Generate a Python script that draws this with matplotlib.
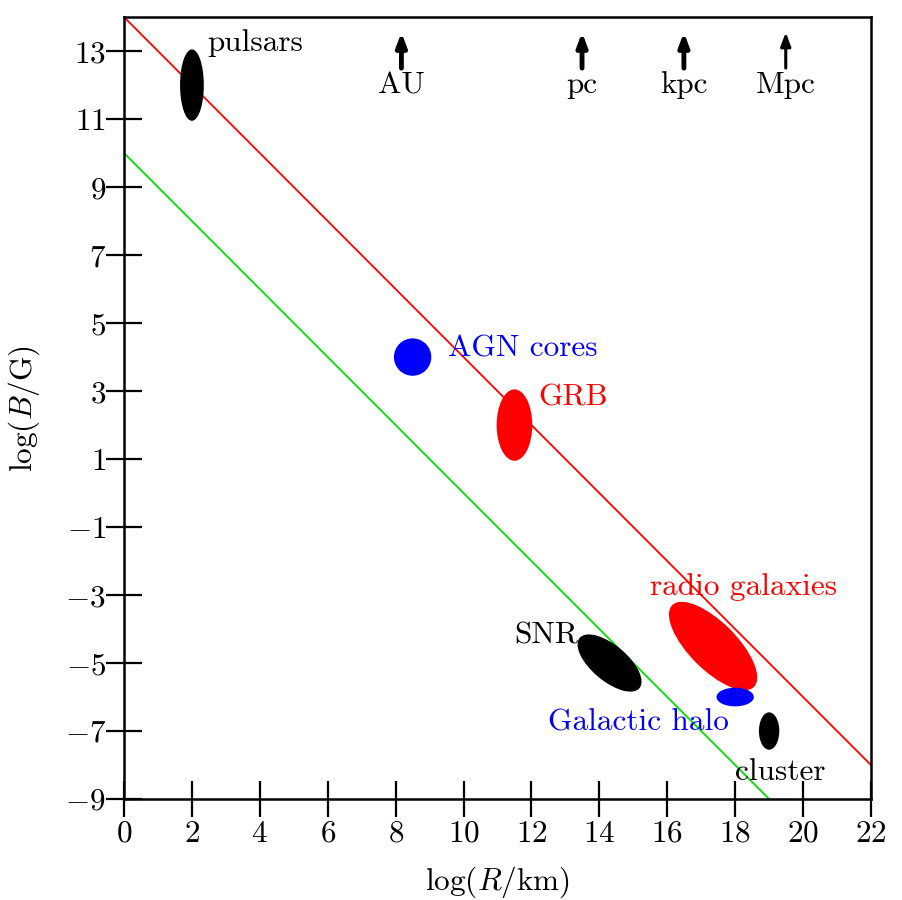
import matplotlib
matplotlib.use("Agg")
import matplotlib.pyplot as plt
from matplotlib.patches import Ellipse

plt.rcParams['font.family'] = 'serif'
plt.rcParams['font.serif'] = ['cmr10', 'DejaVu Serif']
plt.rcParams['mathtext.fontset'] = 'cm'
plt.rcParams['axes.formatter.use_mathtext'] = True

# Hillas lines: log B = intercept - log R
line_x = [[0, 22], [0, 19]]
line_y = [[14, -8], [10, -9]]
line_colors = ['#ff0000', '#00e000']

# sources: centre, width, height, angle (data units)
src_names = ['pulsars', 'AGN cores', 'GRB', 'radio galaxies', 'SNR', 'Galactic halo', 'cluster']
src_x = [2.0, 8.5, 11.5, 17.35, 14.3, 18.0, 19.0]
src_y = [12.0, 4.0, 2.0, -4.5, -5.0, -6.0, -7.0]
src_w = [0.7, 1.1, 1.05, 3.4, 2.3, 1.1, 0.6]
src_h = [2.1, 1.1, 2.1, 1.4, 1.05, 0.55, 1.1]
src_ang = [0, 0, 0, -45, -40, 0, 0]
src_colors = ['black', 'blue', 'red', 'red', 'black', 'blue', 'black']

# label positions (left edge, vertical centre)
lab_x = [2.45, 9.55, 12.2, 15.5, 11.5, 12.5, 18.0]
lab_y = [13.25, 4.25, 2.8, -2.75, -4.2, -6.75, -8.2]

# length scale markers
scale_names = ['AU', 'pc', 'kpc', 'Mpc']
scale_x = [8.17, 13.49, 16.49, 19.49]
scale_lw = [3.5, 3.5, 3.5, 2.2]

FS = 22.5

fig = plt.figure(figsize=(9.02, 9.0), dpi=100)
ax = fig.add_axes([0.1375, 0.1122, 0.8281, 0.8688])

for xs, ys, c in zip(line_x, line_y, line_colors):
    ax.plot(xs, ys, color=c, lw=1.3)

for i in range(len(src_names)):
    e = Ellipse((src_x[i], src_y[i]), src_w[i], src_h[i], angle=src_ang[i],
                facecolor=src_colors[i], edgecolor='none', zorder=3)
    ax.add_patch(e)
    ax.text(lab_x[i], lab_y[i], src_names[i], color=src_colors[i],
            fontsize=FS, ha='left', va='center', zorder=4)

for name, sx, lw in zip(scale_names, scale_x, scale_lw):
    ax.annotate('', xy=(sx, 13.55), xytext=(sx, 12.5),
                arrowprops=dict(arrowstyle='-|>,head_length=0.8,head_width=0.3',
                                color='black', lw=lw, shrinkA=0, shrinkB=0))
    ax.text(sx, 12.0, name, fontsize=FS, ha='center', va='center')

ax.set_xlim(0, 22)
ax.set_ylim(-9, 14)
ax.set_xticks(range(0, 23, 2))
ax.set_yticks(range(-9, 14, 2))
ax.set_xticklabels([f'${v}$' for v in range(0, 23, 2)])
ax.set_yticklabels([f'${v}$' if v >= 0 else f'$-{abs(v)}$' for v in range(-9, 14, 2)])
ax.tick_params(direction='inout', length=26, width=1.6, labelsize=FS, pad=0)
ax.tick_params(axis='x', pad=2)
for sp in ax.spines.values():
    sp.set_linewidth(1.8)

ax.set_xlabel(r'$\log(R/\mathrm{km})$', fontsize=FS, labelpad=12)
ax.set_ylabel(r'$\log(B/\mathrm{G})$', fontsize=FS, labelpad=16)

fig.savefig('out.png', dpi=100, facecolor='white')
